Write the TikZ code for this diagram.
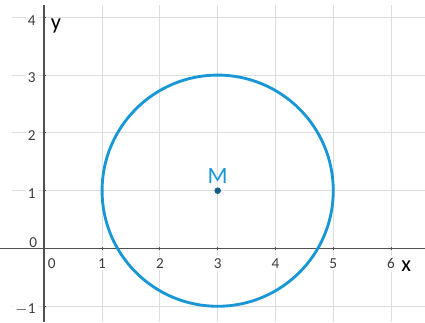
\documentclass[tikz,border=0pt]{standalone}
\usepackage{fontspec}
\setmainfont{Carlito}
\definecolor{gridc}{RGB}{222,222,222}
\definecolor{axisc}{RGB}{80,80,80}
\definecolor{circc}{RGB}{24,150,214}
\definecolor{ptc}{RGB}{20,90,140}
\definecolor{numc}{RGB}{60,60,60}
\tikzset{
  gridline/.style={draw=gridc, line width=0.5pt},
  axisline/.style={draw=axisc, line width=0.8pt},
  numlab/.style={font=\fontsize{7.5}{8}\selectfont, text=numc, fill=white, inner sep=1pt},
  axlab/.style={font=\fontsize{11}{12}\selectfont, text=black, inner sep=0pt},
}
\begin{document}
\begin{tikzpicture}[x=1cm,y=1cm]
\useasboundingbox (-0.766,-1.272) rectangle (6.587,4.299);
% grid
\foreach \i in {1,...,6} \draw[gridline] (\i,-1.272) -- (\i,4.22);
\foreach \j in {-1,1,2,3,4} \draw[gridline] (-0.55,\j) -- (6.587,\j);
% labels x
\foreach \i in {1,...,6} \node[numlab] (xl\i) at (\i,-0.26) {\i};
\node[numlab] (xl0) at (0.13,-0.26) {0};
% labels y
\foreach \j in {1,2,3,4} \node[numlab, anchor=east] (yl\j) at (-0.11,\j-0.05) {\j};
\node[numlab, anchor=east] (ylm) at (-0.11,-1.05) {$-$1};
\node[numlab] (yl0) at (-0.19,0.11) {0};
% axes
\draw[axisline] (-0.766,0) -- (6.587,0);
\draw[axisline] (0,-1.272) -- (0,4.22);
\foreach \i in {1,...,6} \draw[axisc, line width=0.5pt] (\i,-0.03) -- (\i,0.03);
\foreach \j in {-1,1,2,3,4} \draw[axisc, line width=0.5pt] (-0.03,\j) -- (0.03,\j);
\node[axlab] (ylab) at (0.2,3.85) {y};
\node[axlab] (xlab) at (6.26,-0.3) {x};
% circle
\coordinate (M) at (3,1);
\draw[circc, line width=1.4pt] (M) circle (2);
\fill[ptc] (M) circle (0.05);
\draw[circc!60!black, line width=0.3pt] (M) circle (0.05);
\node[font=\fontsize{11.5}{12}\selectfont, text=circc] (Mlab) at (3,1.26) {M};
\end{tikzpicture}
\end{document}
